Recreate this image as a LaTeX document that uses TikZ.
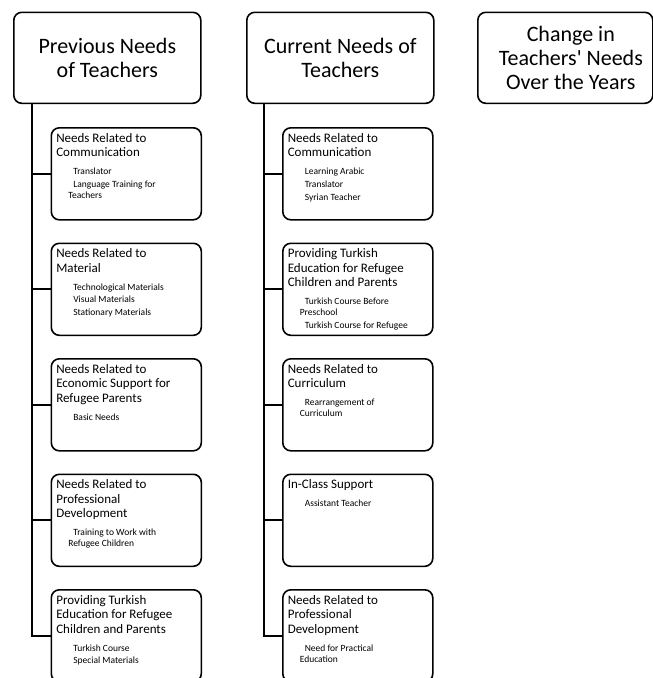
\documentclass[tikz,border=0pt]{standalone}
\usepackage{fontspec}
\setmainfont{Carlito}
% heading of a sub box: larger type, first baseline fixed below the top edge
\newcommand\bxhead[1]{{\fontsize{13}{14.4}\selectfont\rule{0pt}{14.4pt}#1\par}\vspace{7pt}}
% one entry of a sub box: first line indented further than its continuation
\newcommand\bxitem[1]{{\fontsize{9.5}{11}\selectfont\leftskip=12pt\noindent\hspace*{5pt}#1\par}\vspace{1.7pt}}
% top-aligned content of fixed size
\newcommand\bxbody[2]{\parbox[c][92pt][t]{140pt}{\raggedright\parindent=0pt #1#2}}
\begin{document}
\begin{tikzpicture}[x=1pt,y=1pt,
  topbox/.style={draw, line width=1.6pt, rounded corners=8pt, anchor=north west,
    minimum width=187pt, minimum height=91pt, align=center, inner sep=0pt,
    font=\fontsize{22}{24}\selectfont},
  subbox/.style={draw, line width=1.6pt, rounded corners=8pt, anchor=north west,
    inner xsep=5pt, inner ysep=0pt},
  conn/.style={line width=2pt}]
\useasboundingbox (0,0) rectangle (653,-678);

% headings
\node[topbox] (p1) at (13,-11.5) {Previous Needs\\of Teachers};
\node[topbox] (p2) at (246,-11.5) {Current Needs of\\Teachers};
\node[topbox, minimum width=175pt, align=none] (p3) at (477,-11.5)
  {\kern5.5pt\parbox{160pt}{\centering Change in\\Teachers\textquotesingle{} Needs\\Over the Years}\kern-5.5pt};

% previous needs
\node[subbox] (l1) at (50.5,-127) {\bxbody{\bxhead{Needs Related to\\Communication}}{%
  \bxitem{Translator}\bxitem{Language Training for\\Teachers}}};
\node[subbox] (l2) at (50.5,-242.5) {\bxbody{\bxhead{Needs Related to\\Material}}{%
  \bxitem{Technological Materials}\bxitem{Visual Materials}\bxitem{Stationary Materials}}};
\node[subbox] (l3) at (50.5,-358) {\bxbody{\bxhead{Needs Related to\\Economic Support for\\Refugee Parents}}{%
  \bxitem{Basic Needs}}};
\node[subbox] (l4) at (50.5,-473.5) {\bxbody{\bxhead{Needs Related to\\Professional\\Development}}{%
  \bxitem{Training to Work with\\Refugee Children}}};
\node[subbox] (l5) at (50.5,-589) {\bxbody{\bxhead{Providing Turkish\\Education for Refugee\\Children and Parents}}{%
  \bxitem{Turkish Course}\bxitem{Special Materials}}};

% current needs
\node[subbox] (r1) at (282,-127) {\bxbody{\bxhead{Needs Related to\\Communication}}{%
  \bxitem{Learning Arabic}\bxitem{Translator}\bxitem{Syrian Teacher}}};
\node[subbox] (r2) at (282,-242.5) {\bxbody{\bxhead{Providing Turkish\\Education for Refugee\\Children and Parents}}{%
  \bxitem{Turkish Course Before\\Preschool}\bxitem{Turkish Course for Refugee}}};
\node[subbox] (r3) at (282,-358) {\bxbody{\bxhead{Needs Related to\\Curriculum}}{%
  \bxitem{Rearrangement of\\Curriculum}}};
\node[subbox] (r4) at (282,-473.5) {\bxbody{\bxhead{In-Class Support}}{%
  \bxitem{Assistant Teacher}}};
\node[subbox] (r5) at (282,-589) {\bxbody{\bxhead{Needs Related to\\Professional\\Development}}{%
  \bxitem{Need for Practical\\Education}}};

% tree connectors
\coordinate (ls) at ([xshift=19.3pt]p1.south west);
\coordinate (rs) at ([xshift=17.5pt]p2.south west);
\draw[conn] (ls) |- (l5.west);
\foreach \n in {l1,l2,l3,l4} \draw[conn] (\n.west -| ls) -- (\n.west);
\draw[conn] (rs) |- (r5.west);
\foreach \n in {r1,r2,r3,r4} \draw[conn] (\n.west -| rs) -- (\n.west);
\end{tikzpicture}
\end{document}
